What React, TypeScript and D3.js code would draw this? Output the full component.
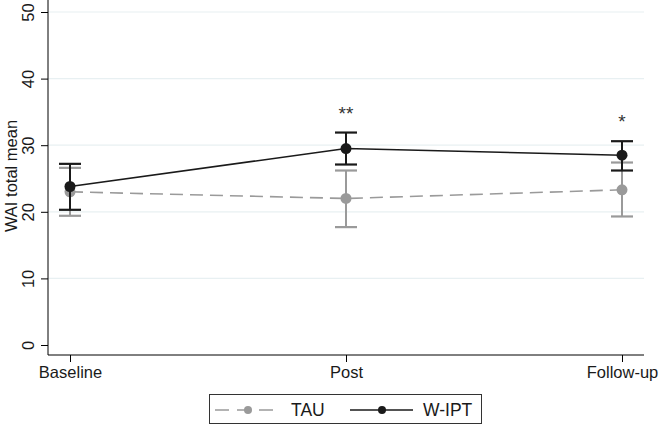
import React, { useEffect, useRef } from 'react';
import * as d3 from 'd3';

const timepoints = ['Baseline', 'Post', 'Follow-up'];
const yTicks = [0, 10, 20, 30, 40, 50];

const tauMean = [23.0, 22.0, 23.3];
const tauLow = [19.4, 17.7, 19.3];
const tauHigh = [26.6, 26.2, 27.4];

const wiptMean = [23.8, 29.5, 28.5];
const wiptLow = [20.3, 27.1, 26.2];
const wiptHigh = [27.2, 31.9, 30.6];

const stars = ['', '**', '*'];

export default function App() {
  const svgRef = useRef<SVGSVGElement>(null);

  useEffect(() => {
    const svg = d3.select(svgRef.current);
    svg.selectAll('*').remove();
    const font = 'Arial, "Liberation Sans", sans-serif';
    const fs = 16.5;

    const x = d3.scalePoint<string>().domain(timepoints).range([70, 622]);
    const y = d3.scaleLinear().domain([0, 50]).range([345, 12]);

    // grid
    svg.append('g')
      .selectAll('line')
      .data(yTicks.slice(1))
      .enter().append('line')
      .attr('x1', 48).attr('x2', 644)
      .attr('y1', d => y(d)).attr('y2', d => y(d))
      .attr('stroke', '#e8f0f2').attr('stroke-width', 1.2);

    // axes
    const yAxis = svg.append('g')
      .attr('transform', 'translate(48,0)')
      .call(d3.axisLeft(y).tickValues(yTicks).tickSize(7).tickSizeOuter(0));
    yAxis.select('.domain').attr('d', 'M0,0V355').attr('stroke', '#000');
    yAxis.selectAll('.tick line').attr('stroke', '#000');
    yAxis.selectAll('.tick text')
      .attr('transform', 'rotate(-90)')
      .attr('x', 0).attr('y', -14)
      .attr('dy', 0)
      .attr('text-anchor', 'middle')
      .attr('font-family', font).attr('font-size', fs).attr('fill', '#1a1a1a');

    const xAxis = svg.append('g')
      .attr('transform', 'translate(0,355)')
      .call(d3.axisBottom(x).tickSize(7).tickPadding(4).tickSizeOuter(0));
    xAxis.select('.domain').attr('d', 'M48,0H644').attr('stroke', '#000');
    xAxis.selectAll('.tick line').attr('stroke', '#000');
    xAxis.selectAll('.tick text')
      .attr('font-family', font).attr('font-size', fs).attr('fill', '#1a1a1a');

    svg.append('text')
      .attr('transform', 'translate(11,176) rotate(-90)')
      .attr('text-anchor', 'middle')
      .attr('dy', '0.35em')
      .attr('font-family', font).attr('font-size', fs).attr('fill', '#1a1a1a')
      .text('WAI total mean');

    const line = d3.line<number>().x((_, i) => x(timepoints[i])!).y(d => y(d));

    const drawSeries = (mean: number[], lo: number[], hi: number[], color: string, dash: string | null) => {
      const g = svg.append('g');
      g.append('path').datum(mean).attr('d', line)
        .attr('fill', 'none').attr('stroke', color).attr('stroke-width', 1.6)
        .attr('stroke-dasharray', dash);
      timepoints.forEach((t, i) => {
        const cx = x(t)!;
        g.append('line').attr('x1', cx).attr('x2', cx).attr('y1', y(lo[i])).attr('y2', y(hi[i]))
          .attr('stroke', color).attr('stroke-width', 2);
        [lo[i], hi[i]].forEach(v => {
          g.append('line').attr('x1', cx - 11).attr('x2', cx + 11).attr('y1', y(v)).attr('y2', y(v))
            .attr('stroke', color).attr('stroke-width', 2.2);
        });
        g.append('circle').attr('cx', cx).attr('cy', y(mean[i])).attr('r', 5.5).attr('fill', color);
      });
    };

    drawSeries(tauMean, tauLow, tauHigh, '#9a9a9a', '13,7');
    drawSeries(wiptMean, wiptLow, wiptHigh, '#1a1a1a', null);

    svg.append('g').selectAll('text').data(stars).enter().append('text')
      .attr('x', (_, i) => x(timepoints[i])!)
      .attr('y', (_, i) => y(wiptHigh[i]) - 13)
      .attr('text-anchor', 'middle')
      .attr('font-family', font).attr('font-size', 19).attr('fill', '#333')
      .text(d => d);

    // legend
    const lg = svg.append('g');
    lg.append('rect').attr('x', 209.5).attr('y', 394.5).attr('width', 272).attr('height', 29)
      .attr('fill', '#fff').attr('stroke', '#333').attr('stroke-width', 1);
    const ly = 410;
    lg.append('line').attr('x1', 215).attr('x2', 281).attr('y1', ly).attr('y2', ly)
      .attr('stroke', '#9a9a9a').attr('stroke-width', 1.6).attr('stroke-dasharray', '14,8');
    lg.append('circle').attr('cx', 248).attr('cy', ly).attr('r', 4).attr('fill', '#9a9a9a');
    lg.append('text').attr('x', 291).attr('y', ly).attr('dy', '0.35em')
      .attr('font-family', font).attr('font-size', 17.5).attr('fill', '#1a1a1a').text('TAU');
    lg.append('line').attr('x1', 350).attr('x2', 413).attr('y1', ly).attr('y2', ly)
      .attr('stroke', '#1a1a1a').attr('stroke-width', 1.6);
    lg.append('circle').attr('cx', 382).attr('cy', ly).attr('r', 4).attr('fill', '#1a1a1a');
    lg.append('text').attr('x', 423).attr('y', ly).attr('dy', '0.35em')
      .attr('font-family', font).attr('font-size', 17.5).attr('fill', '#1a1a1a').text('W-IPT');
  }, []);

  return (
    <svg ref={svgRef} width={661} height={428}
      style={{ position: 'absolute', left: 0, top: 0, background: '#fff' }} />
  );
}
